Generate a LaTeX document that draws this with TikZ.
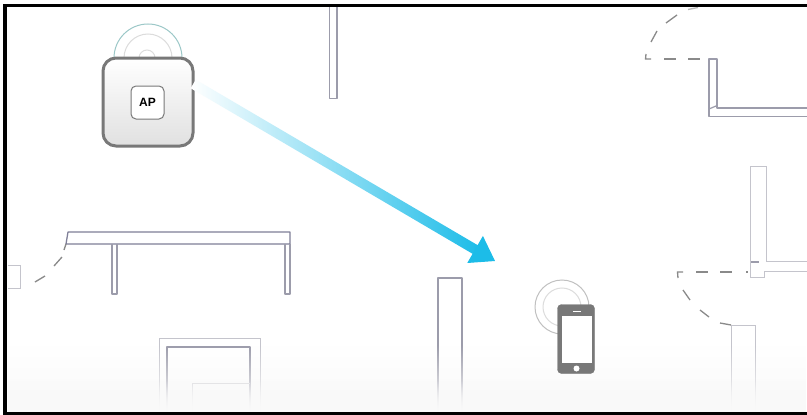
\documentclass[tikz,border=0pt]{standalone}
\usepackage{fontspec}
\setmainfont{Liberation Sans}
\usetikzlibrary{arrows.meta,fadings}
\definecolor{wallline}{HTML}{9c9cab}
\definecolor{walldark}{HTML}{7f7f98}
\definecolor{wallpale}{HTML}{c4c4cc}
\definecolor{dashgrey}{HTML}{8a8a8a}
\definecolor{devicegrey}{HTML}{787878}
\definecolor{tealarc}{HTML}{9cc8c8}
\definecolor{palearc}{HTML}{dcdcdc}
\definecolor{beamblue}{HTML}{1cbce8}
\definecolor{beammid}{HTML}{b4ecf8}
\definecolor{floorgrey}{HTML}{f9f9f9}
\tikzset{
  wall/.style={draw=wallline,line width=1.2pt,line join=round},
  walllight/.style={draw=wallpale,line width=.9pt},
  doordash/.style={draw=dashgrey,line width=1.3pt},
  apbody/.style={draw=devicegrey,line width=3pt,rounded corners=13pt,minimum width=90pt,minimum height=88pt,
    top color=white,bottom color=black!12,inner sep=0pt},
  aplabel/.style={draw=devicegrey,line width=1pt,rounded corners=5pt,fill=white,minimum width=33pt,minimum height=33pt,
    inner sep=0pt,font=\fontsize{12}{14}\selectfont\bfseries},
  phonebody/.style={fill=devicegrey,draw=devicegrey,rounded corners=4pt,minimum width=37pt,minimum height=69pt,inner sep=0pt},
  phonescreen/.style={fill=white,minimum width=30pt,minimum height=47pt,inner sep=0pt},
  beamshaft/.style={left color=white,middle color=beammid,right color=beamblue,minimum width=330pt,minimum height=10pt,inner sep=0pt,sloped},
}
\begin{document}
\begin{tikzpicture}[x=1pt,y=-1pt]

% Page
\fill[white] (0,0) rectangle (807,415);
\useasboundingbox (0,0) rectangle (807,415);

% ===== WALLS =====
% Top wall stub
\draw[wall] (329.5,7) -- (329.5,98.5) -- (337,98.5) -- (337,7);

% Upper right corner
\draw[wall] (807,108) -- (717,108) -- (717,59) -- (709,59) -- (709,116.5) -- (807,116.5);
\draw[wall] (709,109) -- (716,106);

% Right wall
\draw[walllight] (807,261.5) -- (766,261.5) -- (766,166) -- (750.5,166) -- (750.5,277) -- (764,277) -- (764,271) -- (807,271);
\draw[wall] (751,262) -- (759,262);

% Right lower column
\draw[walllight] (731,412) -- (731,325) -- (755,325) -- (755,412);

% Table shape on the left
\draw[walldark,line width=1.3pt,line join=round] (68,232) -- (290,232) -- (290,244) -- (66,244) -- cycle;
\draw[wall] (112,244) -- (112,294) -- (117,294) -- (117,244);
\draw[wall] (285,244) -- (285,294) -- (290,294) -- (290,244);

% Left small stub
\draw[walllight] (8,265) -- (20,265) -- (20,288) -- (8,288);

% Centre wall
\draw[wall] (438,412) -- (438,278) -- (462,278) -- (462,412);

% Bottom nested walls
\draw[walllight] (159,412) -- (159,338.5) -- (260,338.5) -- (260,412);
\draw[wall] (167,412) -- (167,347) -- (250,347) -- (250,412);
\draw[walllight] (192,412) -- (192,383) -- (250,383);

% ===== DOORS =====
% Upper right door
\draw[doordash] (646,54) -- (645.5,59) -- (651,59);
\draw[doordash] (664,59) -- (676,59);
\draw[doordash] (688,59) -- (700,59);
\draw[doordash] (651,42) -- (657,31);
\draw[doordash] (666,23) -- (677,15);
\draw[doordash,draw opacity=.6] (688,9.5) -- (698,7.5);

% Lower right door
\draw[doordash] (678,278) -- (677.5,272) -- (683,272);
\draw[doordash] (696,272) -- (708,272);
\draw[doordash] (720,272) -- (732,272);
\draw[doordash] (746,272) -- (748,272);
\draw[doordash] (683,290) -- (690,300);
\draw[doordash] (700,310) -- (709,317);
\draw[doordash] (720,323) -- (731,325);

% Left door
\draw[doordash] (66,244) -- (64,250);
\draw[doordash] (62,257) -- (54,266);
\draw[doordash] (45,276) -- (35,282);

% ===== FADE TO THE BOTTOM =====
\fill[floorgrey,path fading=north] (8,345) rectangle (807,412);
\fill[floorgrey,path fading=north] (8,380) rectangle (807,412);

% ===== ACCESS POINT =====
\draw[tealarc,line width=1pt] (114,58) arc (180:360:34);
\draw[palearc,line width=1pt] (124,58) arc (180:360:24);
\draw[palearc,line width=1pt] (139,58) arc (180:360:8);
\node[apbody] (apunit) at (148,102) {};
\node[aplabel] (aptag) at (147.5,102.5) {AP};

% ===== PHONE =====
\draw[palearc!70!gray,line width=1pt] (562,307) circle (27);
\draw[palearc,line width=1pt] (562,307) circle (19);
\node[phonebody] (phone) at (576,339) {};
\node[phonescreen] (phonescreen) at (576.5,339.5) {};
\fill[white] (576.5,368.5) circle (3);
\fill[white] (572.5,310.5) rectangle (580.5,312);

% ===== BEAM =====
\coordinate (beamfoot) at (195,85);
\coordinate (beamneck) at (476,250);
\coordinate (beamtip) at (495,261);
\path (beamfoot) -- (beamneck) node[beamshaft,midway] (beam) {};
\draw[beamblue,line width=1pt,-{Triangle[length=23pt,width=31pt]}] (beamneck) -- (beamtip);

% ===== FRAME =====
\fill[black] (3,4) rectangle (807,7);
\fill[black] (3,4) rectangle (7,415);
\fill[black] (3,412) rectangle (807,415);

\end{tikzpicture}
\end{document}
